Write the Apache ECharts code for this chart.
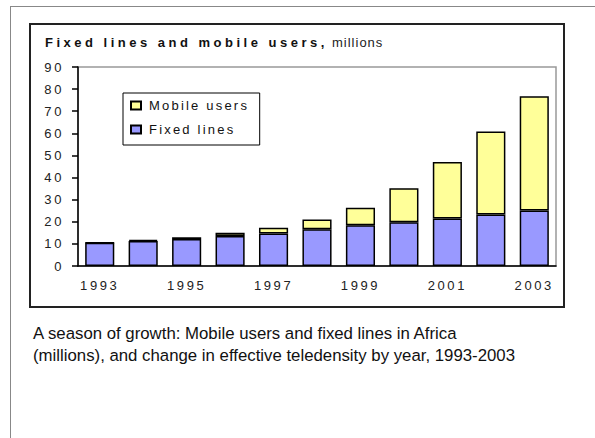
<!DOCTYPE html>
<html>
<head>
<meta charset="utf-8">
<script src="https://cdn.jsdelivr.net/npm/echarts@6/dist/echarts.min.js"></script>
<style>
  html, body { margin: 0; padding: 0; background: #fff; }
  #chart { width: 595px; height: 438px; }
</style>
</head>
<body>
<div id="chart"></div>
<script>
// values (millions)
var years = ['1993', '1994', '1995', '1996', '1997', '1998', '1999', '2000', '2001', '2002', '2003'];
var fixedLines = [10.5, 11.3, 12.2, 13.6, 14.7, 16.6, 18.4, 19.8, 21.5, 23.3, 25.1];
var mobileUsers = [0.1, 0.5, 0.8, 1.4, 2.6, 4.4, 7.9, 15.4, 25.5, 37.5, 51.7];
var yTicks = [0, 90, 10];

var titleMain = 'Fixed lines and mobile users,';
var titleUnit = 'millions';
var caption = 'A season of growth: Mobile users and fixed lines in Africa\n(millions), and change in effective teledensity by year, 1993-2003';

var chart = echarts.init(document.getElementById('chart'), null, {renderer: 'svg'});

var labelFont = {color: '#222', fontSize: 13, fontFamily: 'Liberation Sans'};

var option = {
    animation: false,
    backgroundColor: '#fff',
    legend: {
        orient: 'vertical',
        left: 123,
        top: 93,
        padding: [6, 37, 9, 7],
        itemGap: 11,
        itemWidth: 10,
        itemHeight: 8,
        icon: 'rect',
        borderColor: '#000',
        borderWidth: 1,
        backgroundColor: '#fff',
        textStyle: {color: '#111', fontSize: 13, fontFamily: 'Liberation Sans', padding: [0, 0, 0, 3]},
        data: ['Mobile users', 'Fixed lines']
    },
    grid: {
        left: 78,
        top: 67,
        right: 39,
        bottom: 172,
        show: true,
        borderColor: '#999',
        borderWidth: 1.5
    },
    xAxis: {
        type: 'category',
        data: years,
        axisLine: {lineStyle: {color: '#000', width: 1.5}},
        axisTick: {length: 6, interval: 0, lineStyle: {color: '#000', width: 1.5}},
        axisLabel: Object.assign({interval: 1, margin: 13}, labelFont)
    },
    yAxis: {
        type: 'value',
        min: yTicks[0],
        max: yTicks[1],
        interval: yTicks[2],
        axisLine: {show: true, lineStyle: {color: '#000', width: 1.5}},
        axisTick: {show: true, length: 6, lineStyle: {color: '#000', width: 1.5}},
        axisLabel: Object.assign({margin: 14}, labelFont),
        splitLine: {show: false}
    },
    series: [
        {
            name: 'Fixed lines',
            type: 'bar',
            stack: 'all',
            barCategoryGap: '33%',
            data: fixedLines,
            itemStyle: {color: '#9999FF', borderColor: '#000', borderWidth: 1.5}
        },
        {
            name: 'Mobile users',
            type: 'bar',
            stack: 'all',
            data: mobileUsers,
            itemStyle: {color: '#FFFF99', borderColor: '#000', borderWidth: 1.5}
        }
    ],
    graphic: [
        // outer frame of the page
        {type: 'line', shape: {x1: 10, y1: 6.5, x2: 595, y2: 6.5}, style: {stroke: '#888', lineWidth: 1}},
        {type: 'line', shape: {x1: 10.5, y1: 6, x2: 10.5, y2: 438}, style: {stroke: '#888', lineWidth: 1}},
        // chart box
        {type: 'rect', z: -1, shape: {x: 30, y: 24, width: 534, height: 283}, style: {fill: 'none', stroke: '#222', lineWidth: 2}},
        // title
        {
            type: 'text', left: 45, top: 36,
            style: {text: titleMain, fill: '#111', font: 'bold 13px "Liberation Sans"'}
        },
        {
            type: 'text', left: 332, top: 36,
            style: {text: titleUnit, fill: '#222', font: '13px "Liberation Sans"'}
        },
        // caption
        {
            type: 'text',
            left: 33,
            top: 322,
            style: {
                text: caption,
                fill: '#111',
                font: '16.8px "Liberation Sans"',
                lineHeight: 22
            }
        }
    ]
};
chart.setOption(option);

// the original uses letter-spaced text in the chart
function applySpacing() {
    var texts = document.querySelectorAll('#chart svg text');
    texts.forEach(function (t) {
        var s = t.textContent;
        var sp = null;
        if (/^\d+$/.test(s)) sp = '2.6px';
        else if (s === 'Mobile users' || s === 'Fixed lines') sp = '2.2px';
        else if (s === titleMain) sp = '3.5px';
        else if (s === titleUnit) sp = '1px';
        if (sp) t.style.letterSpacing = sp;
    });
}
applySpacing();
chart.on('finished', applySpacing);
</script>
</body>
</html>
